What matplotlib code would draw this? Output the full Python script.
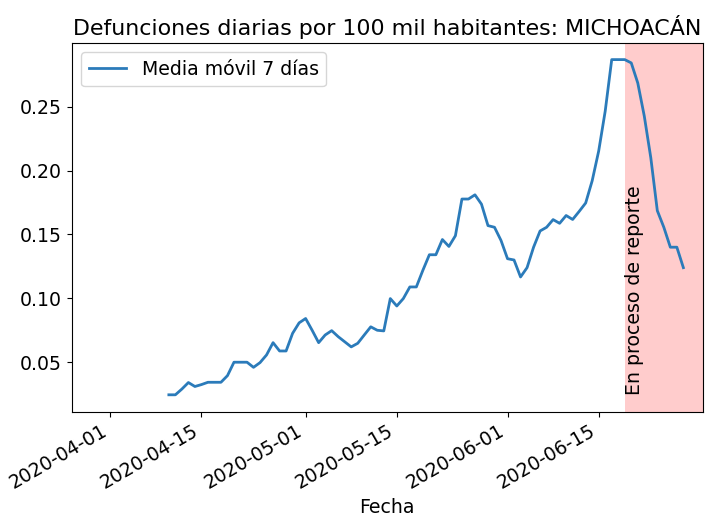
import numpy as np
import pandas as pd
import matplotlib
matplotlib.use("Agg")
import matplotlib.pyplot as plt
import matplotlib.dates as mdates

# media movil 7 dias, desde 2020-04-10
start_date = "2020-04-10"
media_movil = [
    0.0245, 0.0245, 0.029, 0.0341, 0.031, 0.0325, 0.0343, 0.0343, 0.0343, 0.0395,
    0.050, 0.050, 0.050, 0.046, 0.0497, 0.0557, 0.0653, 0.0588, 0.0588, 0.0726,
    0.0808, 0.0842, 0.075, 0.0653, 0.0713, 0.0747, 0.0700, 0.066, 0.062, 0.0648,
    0.0713, 0.0777, 0.075, 0.0745, 0.0998, 0.094, 0.0998, 0.1089, 0.1089, 0.1219,
    0.1341, 0.1341, 0.146, 0.1406, 0.149, 0.1777, 0.1777, 0.181, 0.1737, 0.1569,
    0.1556, 0.1453, 0.131, 0.130, 0.1167, 0.124, 0.140, 0.1527, 0.1556, 0.1616,
    0.1587, 0.1648, 0.1617, 0.168, 0.1746, 0.192, 0.2153, 0.2465, 0.2868, 0.2868,
    0.2868, 0.2842, 0.2685, 0.2426, 0.210, 0.1686, 0.1556, 0.140, 0.140, 0.124,
]
fechas = pd.date_range(start_date, periods=len(media_movil), freq="D")

reporte_inicio = pd.Timestamp("2020-06-19")
reporte_fin = pd.Timestamp("2020-07-01")
xlim = (pd.Timestamp("2020-03-26 02:00"), pd.Timestamp("2020-07-01"))
xticks = pd.to_datetime(["2020-04-01", "2020-04-15", "2020-05-01",
                         "2020-05-15", "2020-06-01", "2020-06-15"])

fs = 13.6

fig = plt.figure(figsize=(7.1, 5.29), dpi=100)
ax = fig.add_axes([0.101, 0.222, 0.889, 0.697])

ax.plot(fechas, media_movil, color="#2b7bba", lw=2, label="Media móvil 7 días")
ax.axvspan(reporte_inicio, reporte_fin, color="red", alpha=0.2, lw=0)
ax.text(reporte_inicio, min(media_movil), "En proceso de reporte",
        rotation=90, ha="left", va="bottom", fontsize=fs)

ax.set_xlim(xlim)
ax.set_xticks(xticks)
ax.xaxis.set_major_formatter(mdates.DateFormatter("%Y-%m-%d"))
plt.setp(ax.get_xticklabels(), rotation=30, ha="right")
ax.tick_params(labelsize=fs)
ax.set_yticks([0.05, 0.10, 0.15, 0.20, 0.25])
ax.set_xlabel("Fecha", fontsize=fs)
ax.set_title("Defunciones diarias por 100 mil habitantes: MICHOACÁN", fontsize=15.9)
ax.legend(loc="upper left", fontsize=fs)

fig.savefig("out.png", dpi=100)
